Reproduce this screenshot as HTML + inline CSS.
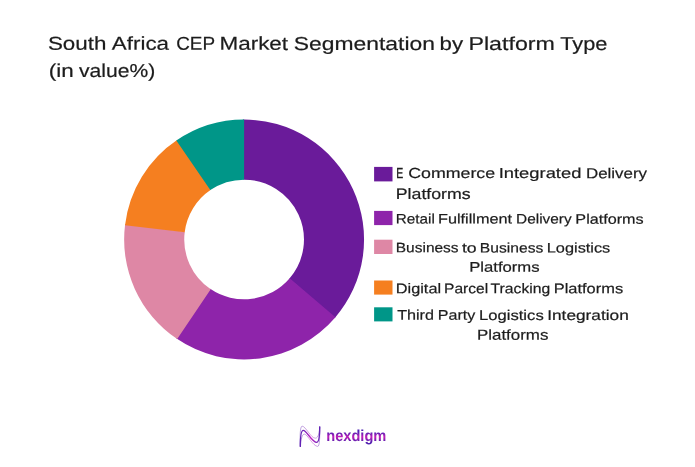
<!DOCTYPE html>
<html lang="en"><head><meta charset="utf-8"><title>South Africa CEP Market Segmentation by Platform Type</title>
<style>
html,body{margin:0;padding:0;background:#fff;}
body{width:695px;height:467px;overflow:hidden;}
svg{display:block;}
svg text{font-family:"Liberation Sans",sans-serif;fill:#1c1c1c;text-rendering:geometricPrecision;}
svg text.lt{stroke:#1c1c1c;stroke-width:0.2;}
svg text.tt{stroke:#1c1c1c;stroke-width:0.2;}
svg text.lg{fill:url(#tg);font-weight:700;}
</style></head><body>
<svg width="695" height="467" viewBox="0 0 695 467" role="img" aria-label="South Africa CEP Market Segmentation by Platform Type (in value%)">
<defs>
<linearGradient id="lg" gradientUnits="userSpaceOnUse" x1="300" y1="0" x2="320" y2="0"><stop offset="0" stop-color="#5e22b4"/><stop offset="0.25" stop-color="#7a22b8"/><stop offset="0.55" stop-color="#c21fc4"/><stop offset="0.85" stop-color="#7a22b8"/><stop offset="1" stop-color="#5e22b4"/></linearGradient>
<linearGradient id="tg" gradientUnits="userSpaceOnUse" x1="0" y1="428" x2="0" y2="446"><stop offset="0" stop-color="#3f20b0"/><stop offset="0.26" stop-color="#5e20b4"/><stop offset="0.5" stop-color="#c41fb8"/><stop offset="0.74" stop-color="#5e1fb0"/><stop offset="1" stop-color="#3f20b0"/></linearGradient>
</defs>
<rect width="695" height="467" fill="#ffffff"/>
<g id="title">
<text class="tt" transform="translate(328 49.9) matrix(1 0.0005 0 1 0 0)" font-size="18.68"><tspan x="-280.10" textLength="58.45" lengthAdjust="spacingAndGlyphs">South</tspan> <tspan x="-216.20" textLength="57.25" lengthAdjust="spacingAndGlyphs">Africa</tspan> <tspan x="-151.85" textLength="38.55" lengthAdjust="spacingAndGlyphs">CEP</tspan> <tspan x="-108.55" textLength="68.65" lengthAdjust="spacingAndGlyphs">Market</tspan> <tspan x="-34.20" textLength="141.10" lengthAdjust="spacingAndGlyphs">Segmentation</tspan> <tspan x="111.55" textLength="23.55" lengthAdjust="spacingAndGlyphs">by</tspan> <tspan x="140.45" textLength="86.45" lengthAdjust="spacingAndGlyphs">Platform</tspan> <tspan x="232.20" textLength="47.25" lengthAdjust="spacingAndGlyphs">Type</tspan></text>
<text class="tt" transform="translate(102 77.1) matrix(1 0.0005 0 1 0 0)" font-size="18.68"><tspan x="-53.15" textLength="24.95" lengthAdjust="spacingAndGlyphs">(in</tspan> <tspan x="-22.95" textLength="76.20" lengthAdjust="spacingAndGlyphs">value%)</tspan></text>
</g>
<g id="donut">
<path d="M242.84 119.56A119.95 119.95 0 0 1 334.63 318.19L289.27 278.77A59.85 59.85 0 0 0 243.47 179.65Z" fill="#6a1b9a"/>
<path d="M335.45 317.24A119.95 119.95 0 0 1 176.16 338.35L210.20 288.82A59.85 59.85 0 0 0 289.68 278.29Z" fill="#8e24aa"/>
<path d="M177.20 339.06A119.95 119.95 0 0 1 125.16 223.95L184.76 231.74A59.85 59.85 0 0 0 210.72 289.18Z" fill="#de87a5"/>
<path d="M125.01 225.19A119.95 119.95 0 0 1 177.37 139.82L210.81 189.77A59.85 59.85 0 0 0 184.68 232.36Z" fill="#f57f20"/>
<path d="M176.33 140.53A119.95 119.95 0 0 1 244.10 119.55L244.10 179.65A59.85 59.85 0 0 0 210.29 190.12Z" fill="#009688"/>
</g>
<g id="legend">
<rect x="374.1" y="166.9" width="18.4" height="14.5" fill="#6a1b9a"/>
<rect x="374.1" y="210.9" width="18.4" height="14.2" fill="#8e24aa"/>
<rect x="374.1" y="239.7" width="18.4" height="14.3" fill="#de87a5"/>
<rect x="374.1" y="280.5" width="18.4" height="14.1" fill="#f57f20"/>
<rect x="374.1" y="307.3" width="18.4" height="14.1" fill="#009688"/>
<text class="lt" transform="translate(522 178.1) matrix(1 0.0005 0 1 0 0)" font-size="14.53"><tspan x="-125.75" textLength="7.00" lengthAdjust="spacingAndGlyphs" stroke-width="0.32">E</tspan> <tspan x="-113.75" textLength="86.90" lengthAdjust="spacingAndGlyphs">Commerce</tspan> <tspan x="-23.30" textLength="82.70" lengthAdjust="spacingAndGlyphs">Integrated</tspan> <tspan x="63.95" textLength="61.10" lengthAdjust="spacingAndGlyphs">Delivery</tspan></text>
<text class="lt" transform="translate(434 198.9) matrix(1 0.0005 0 1 0 0)" font-size="15.12"><tspan x="-38.25" textLength="74.90" lengthAdjust="spacingAndGlyphs">Platforms</tspan></text>
<text class="lt" transform="translate(520 223.6) matrix(1 0.0005 0 1 0 0)" font-size="13.74"><tspan x="-124.25" textLength="39.15" lengthAdjust="spacingAndGlyphs">Retail</tspan> <tspan x="-82.05" textLength="74.15" lengthAdjust="spacingAndGlyphs">Fulfillment</tspan> <tspan x="-3.95" textLength="55.55" lengthAdjust="spacingAndGlyphs">Delivery</tspan> <tspan x="55.35" textLength="68.35" lengthAdjust="spacingAndGlyphs">Platforms</tspan></text>
<text class="lt" transform="translate(503 252.4) matrix(1 0.0005 0 1 0 0)" font-size="13.66"><tspan x="-107.25" textLength="62.85" lengthAdjust="spacingAndGlyphs">Business</tspan> <tspan x="-41.10" textLength="14.70" lengthAdjust="spacingAndGlyphs">to</tspan> <tspan x="-23.15" textLength="63.45" lengthAdjust="spacingAndGlyphs">Business</tspan> <tspan x="43.75" textLength="63.55" lengthAdjust="spacingAndGlyphs">Logistics</tspan></text>
<text class="lt" transform="translate(505 271.8) matrix(1 0.0005 0 1 0 0)" font-size="14.03"><tspan x="-35.85" textLength="70.45" lengthAdjust="spacingAndGlyphs">Platforms</tspan></text>
<text class="lt" transform="translate(510 293.3) matrix(1 0.0005 0 1 0 0)" font-size="14.03"><tspan x="-114.25" textLength="45.35" lengthAdjust="spacingAndGlyphs">Digital</tspan> <tspan x="-65.95" textLength="44.10" lengthAdjust="spacingAndGlyphs">Parcel</tspan> <tspan x="-19.45" textLength="59.75" lengthAdjust="spacingAndGlyphs">Tracking</tspan> <tspan x="43.75" textLength="69.35" lengthAdjust="spacingAndGlyphs">Platforms</tspan></text>
<text class="lt" transform="translate(513 319.9) matrix(1 0.0005 0 1 0 0)" font-size="14.03"><tspan x="-115.85" textLength="36.80" lengthAdjust="spacingAndGlyphs">Third</tspan> <tspan x="-75.25" textLength="37.50" lengthAdjust="spacingAndGlyphs">Party</tspan> <tspan x="-34.00" textLength="64.70" lengthAdjust="spacingAndGlyphs">Logistics</tspan> <tspan x="34.20" textLength="81.60" lengthAdjust="spacingAndGlyphs">Integration</tspan></text>
<text class="lt" transform="translate(513 339.8) matrix(1 0.0005 0 1 0 0)" font-size="14.53"><tspan x="-36.05" textLength="71.45" lengthAdjust="spacingAndGlyphs">Platforms</tspan></text>
</g>
<g id="logo">
<g fill="none" stroke="url(#lg)" stroke-linecap="round">
<path d="M300.1 446 C300 436 300 426.2 302.2 426.2 C305.5 426.2 311 438.2 315.3 438.2 C318.5 438.2 319.5 432 319.7 426.9" stroke-width="0.6" opacity="0.7"/>
<path d="M300.5 446.4 C300.8 440 302 434.1 304.3 434.1 C307.5 434.1 313 446.4 317.7 446.4 C319.8 446.4 319.8 436 319.8 426.9" stroke-width="0.6" opacity="0.7"/>
<path d="M300.3 446.4 C300.3 438 301 430.3 303.3 430.3 C306.5 430.3 312 442.3 316.6 442.3 C319.2 442.3 319.7 434 319.7 426.9" stroke-width="1.35"/>
</g>
<text class="lg" x="326.2" y="441.3" font-size="16" textLength="60.2" lengthAdjust="spacingAndGlyphs">nexdigm</text>
</g>
</svg>
</body></html>
